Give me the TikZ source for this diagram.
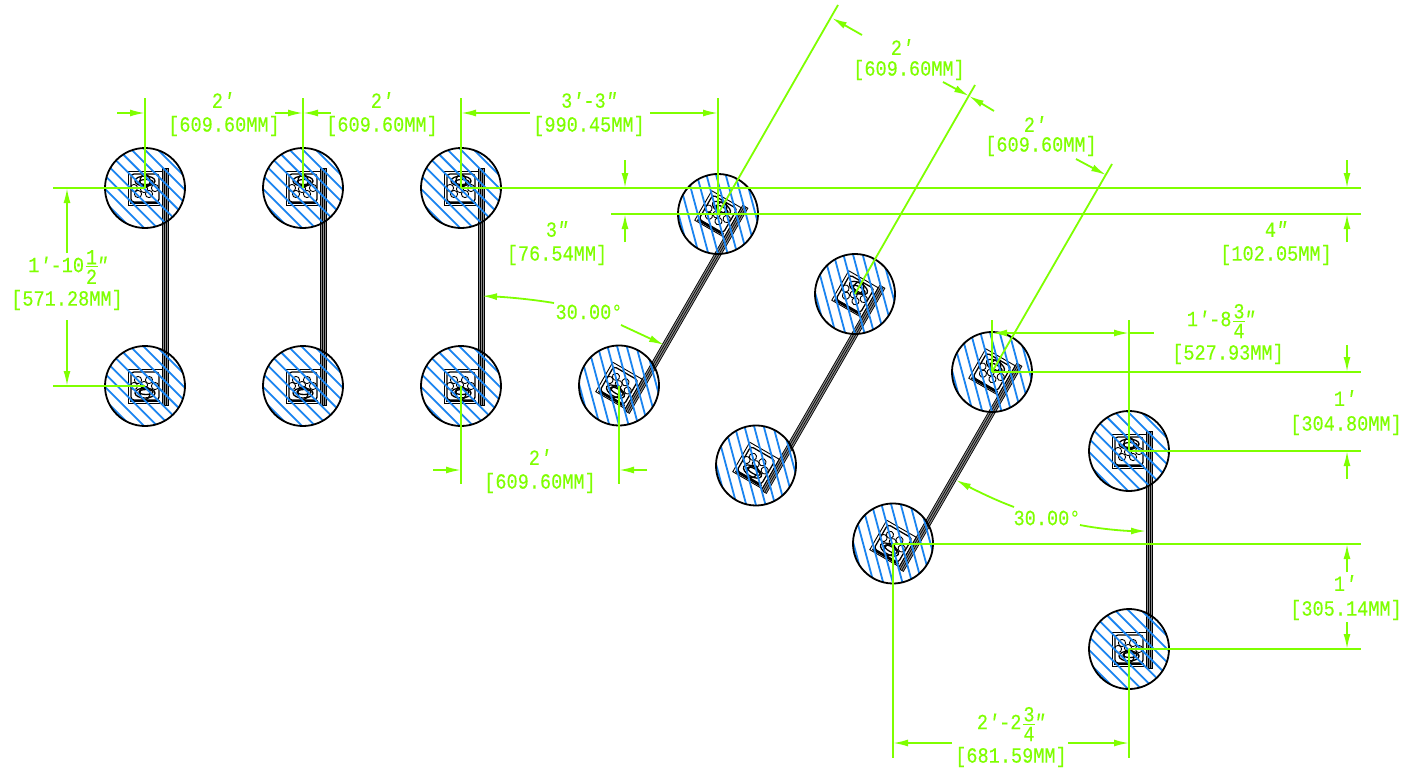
\documentclass[tikz,border=0pt]{standalone}
\usepackage{fontspec}
\setmainfont[FakeStretch=0.86,FakeBold=0.25]{Liberation Mono}
\usetikzlibrary{arrows.meta}
\definecolor{dimgreen}{HTML}{7FFF00}
\definecolor{hatchblue}{HTML}{1A84F0}
\tikzset{
  x=1pt,y=-1pt,
  dimline/.style={draw=dimgreen,line width=1.8pt},
  dimarr/.style={draw=dimgreen,line width=1.8pt,-{Latex[length=15pt,width=7pt]}},
  dimtext/.style={text=dimgreen,inner sep=0pt,font=\fontsize{21.6}{23}\selectfont},
  hatchln/.style={draw=hatchblue,line width=1.8pt},
  ring/.style={draw=black,line width=1.8pt},
  part/.style={draw=black,line width=0.9pt},
}
\newcommand\frc[2]{\kern1.5pt\ensuremath{\vcenter{\offinterlineskip\halign{\hfil##\hfil\cr\hbox to 12pt{\hss #1\hss}\cr\noalign{\kern2pt\hrule height 1.2pt\kern2pt}\hbox to 12pt{\hss #2\hss}\cr}}}\kern-1pt}
\newcommand\ft{{\itshape ′}}
\newcommand\inch{{\itshape ″}}
% details of one round hub; #1 local y of centre, #2 = 1 or -1 (paw flip)
\newcommand\hub[2]{%
  \begin{scope}[yshift=-#1pt]
    \draw[part] (-17,-17) rectangle (17,17);
    \draw[part,line width=1.3pt,rounded corners=3pt] (-14,-14) rectangle (14,14);
    \draw[part,line width=2.4pt] (-15,15) -- (15,15);
    \foreach \p/\q in {-7/6,4/6,10/0,-11/0,-1/1}
      \draw[part] (\p,{#2*\q}) circle[radius=3.6];
    \draw[part,line width=1.3pt] (0,{#2*(-7)}) ellipse[x radius=10,y radius=5];
    \draw[part,line width=1.3pt] (0,{#2*(-7)}) ellipse[x radius=5,y radius=6.5];
    \draw[part,line width=1.3pt] (1,{#2*(-6)}) ellipse[x radius=7,y radius=2.5];
    \begin{scope}
      \clip (0,0) circle[radius=40];
      \foreach \k in {-5,...,5}
        \draw[hatchln,rotate=-45] (-50,{\k*9.3+1}) -- (50,{\k*9.3+1});
    \end{scope}
    \draw[ring] (0,0) circle[radius=40];
  \end{scope}}
% pair of hubs with bar; #1 top centre, #2 rotation
\newcommand\holder[2]{%
  \begin{scope}[shift={(#1)},rotate=#2]
    \fill[black!45] (17,-20) rectangle (23,217);
    \draw[black,line width=0.7pt] (17,-20) rectangle (23,217);
    \draw[black,line width=0.7pt] (19,-20) -- (19,217) (21,-20) -- (21,217);
    \hub{0}{1}
    \hub{198}{-1}
  \end{scope}}
\begin{document}
\begin{tikzpicture}
\useasboundingbox (0,0) rectangle (1410,772);
\fill[white] (0,0) rectangle (1410,772);
% hub centres
\coordinate (A1) at (145,188); \coordinate (A2) at (145,386);
\coordinate (B1) at (303,188); \coordinate (B2) at (303,386);
\coordinate (C1) at (461,188); \coordinate (C2) at (461,386);
\coordinate (D1) at (718,214); \coordinate (D2) at (619,386);
\coordinate (E1) at (855,294); \coordinate (E2) at (756,465);
\coordinate (F1) at (992,372); \coordinate (F2) at (893,544);
\coordinate (G1) at (1129,451); \coordinate (G2) at (1129,649);
\holder{A1}{0}
\holder{B1}{0}
\holder{C1}{0}
\holder{D1}{-30}
\holder{E1}{-30}
\holder{F1}{-30}
\holder{G1}{0}
% extension lines
\draw[dimline] (A1) -- (145,98);
\draw[dimline] (B1) -- (303,98);
\draw[dimline] (C1) -- (461,98);
\draw[dimline] (D1) -- (718,98);
\draw[dimline] (53,188) -- (A1);
\draw[dimline] (53,386) -- (A2);
\draw[dimline] (C1) -- (1361,188);
\draw[dimline] (611,214) -- (1361,214);
\draw[dimline] (C2) -- (461,484);
\draw[dimline] (D2) -- (619,484);
\draw[dimline] (D1) -- (838,5);
\draw[dimline] (E1) -- (975,85);
\draw[dimline] (F1) -- (1112,164);
\draw[dimline] (F1) -- (992,320);
\draw[dimline] (G1) -- (1129,320);
\draw[dimline] (F1) -- (1361,372);
\draw[dimline] (G1) -- (1361,451);
\draw[dimline] (F2) -- (1361,544);
\draw[dimline] (G2) -- (1361,649);
\draw[dimline] (F2) -- (893,758);
\draw[dimline] (G2) -- (1129,758);
% arrows
\draw[dimarr] (117,113) -- (145,113);
\draw[dimarr] (275,113) -- (303,113);
\draw[dimarr] (331,113) -- (303,113);
\draw[dimarr] (530,113) -- (461,113);
\draw[dimarr] (650,113) -- (718,113);
\draw[dimarr] (67,253) -- (67,188);
\draw[dimarr] (67,320) -- (67,386);
\draw[dimarr] (625,160) -- (625,188);
\draw[dimarr] (625,242) -- (625,214);
\draw[dimarr] (1347,160) -- (1347,188);
\draw[dimarr] (1347,242) -- (1347,214);
\draw[dimarr] (433,470) -- (461,470);
\draw[dimarr] (647,470) -- (619,470);
\draw[dimarr] (862,35) -- (832,18);
\draw[dimarr] (943,82) -- (969,96);
\draw[dimarr] (994,111) -- (969,96);
\draw[dimarr] (1076,159) -- (1106,175);
\draw[dimarr] (1060,333) -- (992,333);
\draw[dimarr] (1060,333) -- (1129,333);
\draw[dimline] (1129,333) -- (1154,333);
\draw[dimarr] (1347,345) -- (1347,372);
\draw[dimarr] (1347,479) -- (1347,451);
\draw[dimarr] (1347,572) -- (1347,544);
\draw[dimarr] (1347,622) -- (1347,649);
\draw[dimarr] (952,743) -- (893,743);
\draw[dimarr] (1068,743) -- (1129,743);
\draw[dimarr] (554,303) .. controls (530,299) and (505,297) .. (482,296);
\draw[dimarr] (621,325) -- (664,345);
\draw[dimarr] (1014,507) .. controls (995,500) and (975,490) .. (956,480);
\draw[dimarr] (1080,525) .. controls (1100,529) and (1125,531) .. (1146,531);
% texts
\node[dimtext] (t1a) at (223,100) {2\ft};
\node[dimtext] (t1b) at (224,126) {[609.60MM]};
\node[dimtext] (t2a) at (382,100) {2\ft};
\node[dimtext] (t2b) at (382,126) {[609.60MM]};
\node[dimtext] (t3a) at (589,100) {3\ft-3\inch};
\node[dimtext] (t3b) at (589,126) {[990.45MM]};
\node[dimtext] (t4a) at (902,47) {2\ft};
\node[dimtext] (t4b) at (909,70) {[609.60MM]};
\node[dimtext] (t5a) at (1035,124) {2\ft};
\node[dimtext] (t5b) at (1041,146) {[609.60MM]};
\node[dimtext] (t6a) at (557,229) {3\inch};
\node[dimtext] (t6b) at (557,255) {[76.54MM]};
\node[dimtext] (t7a) at (1276,229) {4\inch};
\node[dimtext] (t7b) at (1276,255) {[102.05MM]};
\node[dimtext] (t8a) at (68,267) {1\ft-10\frc{1}{2}\inch};
\node[dimtext] (t8b) at (67,300) {[571.28MM]};
\node[dimtext] (t9a) at (540,457) {2\ft};
\node[dimtext] (t9b) at (540,483) {[609.60MM]};
\node[dimtext] (t10) at (589,312) {30.00°};
\node[dimtext] (t11) at (1047,518) {30.00°};
\node[dimtext] (t12a) at (1221,321) {1\ft-8\frc{3}{4}\inch};
\node[dimtext] (t12b) at (1228,354) {[527.93MM]};
\node[dimtext] (t13a) at (1345,398) {1\ft};
\node[dimtext] (t13b) at (1346,425) {[304.80MM]};
\node[dimtext] (t14a) at (1345,583) {1\ft};
\node[dimtext] (t14b) at (1346,610) {[305.14MM]};
\node[dimtext] (t15a) at (1011,724) {2\ft-2\frc{3}{4}\inch};
\node[dimtext] (t15b) at (1011,757) {[681.59MM]};
\end{tikzpicture}
\end{document}
